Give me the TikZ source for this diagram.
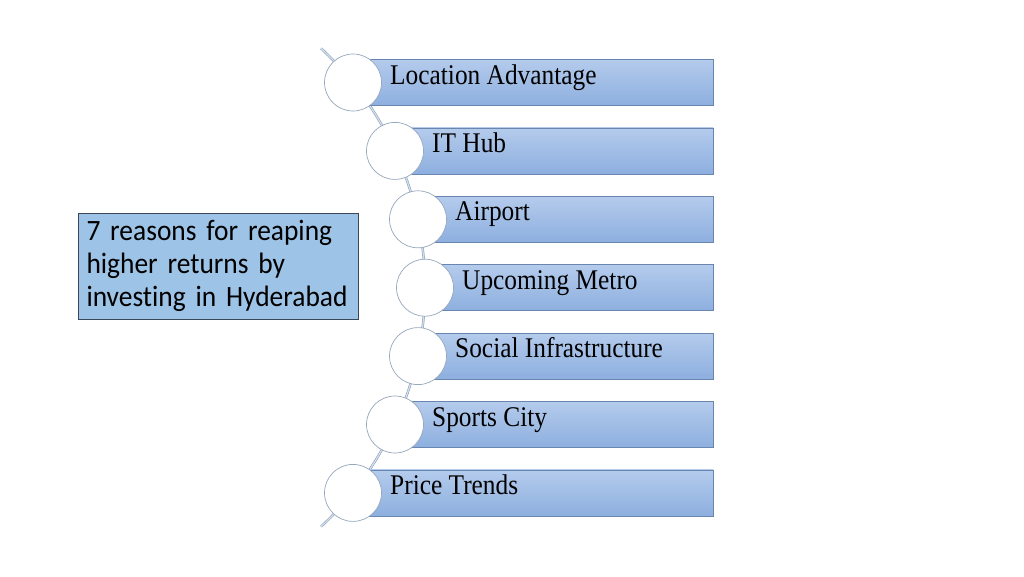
\documentclass[tikz,border=0pt]{standalone}
\usepackage{fontspec}
\setmainfont{Liberation Serif}[FakeStretch=0.89]
\newfontfamily\calibri{Carlito}[FakeStretch=0.93, Ligatures=CommonOff, WordSpace=0.8]
\usetikzlibrary{positioning}

\definecolor{barTop}{RGB}{180,203,236}
\definecolor{barBot}{RGB}{141,175,223}
\definecolor{barEdge}{RGB}{104,134,176}
\definecolor{ringEdge}{RGB}{150,166,188}
\definecolor{spine}{RGB}{140,162,188}
\definecolor{spineIn}{RGB}{214,224,236}
\definecolor{noteFill}{RGB}{157,195,230}
\definecolor{noteEdge}{RGB}{60,70,90}

\tikzset{
  bar/.style={rectangle, draw=barEdge, line width=0.6pt, top color=barTop,
    bottom color=barBot, minimum height=46pt, inner sep=0pt, anchor=west},
  ring/.style={circle, draw=ringEdge, fill=white, line width=0.7pt,
    minimum size=57pt, inner sep=0pt},
  bartext/.style={anchor=base west, inner sep=0pt, font=\fontsize{28.5}{32}\selectfont},
  note/.style={rectangle, draw=noteEdge, fill=noteFill, line width=0.8pt,
    minimum width=280pt, minimum height=106pt, text width=263pt, align=left,
    inner xsep=8pt, font=\calibri\fontsize{29.5}{33}\selectfont}
}

\begin{document}
\begin{tikzpicture}[x=1pt,y=-1pt]
  \useasboundingbox (0,0) rectangle (1024,576);

  % spine behind the circles
  \draw[spine, line width=0.6pt, double=spineIn, double distance=1.2pt]
    (98,287.5) ++(-47:327) arc[start angle=-47, end angle=47, radius=327];

  % the seven reasons
  \foreach \cx/\lbl [count=\i] in {353/Location Advantage, 395/IT Hub,
      418/Airport, 425/Upcoming Metro, 418/Social Infrastructure,
      395/Sports City, 353/Price Trends} {
    \pgfmathsetmacro{\cy}{82.5+(\i-1)*68.4}
    \node[bar, minimum width={713-\cx}] (b\i) at (\cx,\cy) {};
    \node[bartext] (t\i) at (\cx+37,\cy+1.5) {\lbl};
    \node[ring] (c\i) at (\cx,\cy) {};
  }

  % title box
  \node[note] (reasons) at (218,266)
    {7 reasons for reaping\\higher returns by\\investing in Hyderabad};
\end{tikzpicture}
\end{document}
